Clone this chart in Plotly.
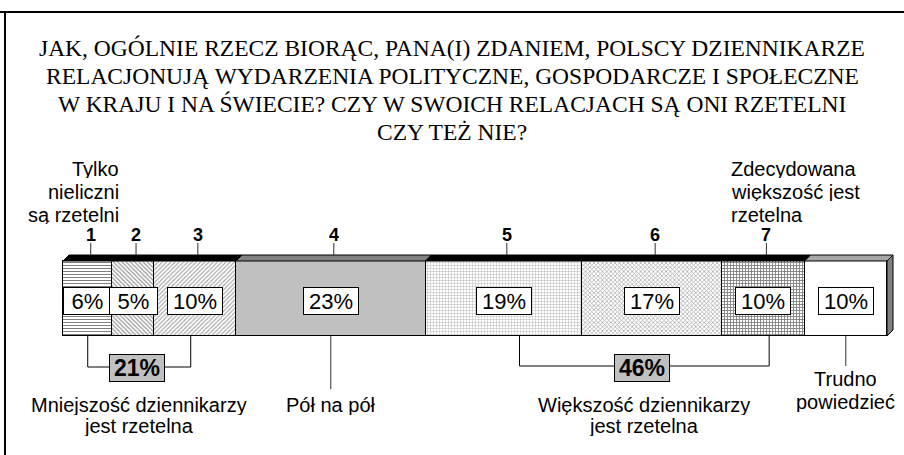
import plotly.graph_objects as go

# ---------------- data ----------------
segment_names = ["1", "2", "3", "4", "5", "6", "7", "Trudno powiedzieć"]
values = [6, 5, 10, 23, 19, 17, 10, 10]
value_labels = ["6%", "5%", "10%", "23%", "19%", "17%", "10%", "10%"]
scale_numbers = ["1", "2", "3", "4", "5", "6", "7"]
group_labels = ["21%", "46%"]
title_lines = [
    "JAK, OGÓLNIE RZECZ BIORĄC, PANA(I) ZDANIEM, POLSCY DZIENNIKARZE",
    "RELACJONUJĄ WYDARZENIA POLITYCZNE, GOSPODARCZE I SPOŁECZNE",
    "W KRAJU I NA ŚWIECIE? CZY W SWOICH RELACJACH SĄ ONI RZETELNI",
    "CZY TEŻ NIE?",
]
top_left_label = ["Tylko", "nieliczni", "są rzetelni"]
top_right_label = ["Zdecydowana", "większość jest", "rzetelna"]
minority_label = ["Mniejszość dziennikarzy", "jest rzetelna"]
half_label = ["Pół na pół"]
majority_label = ["Większość dziennikarzy", "jest rzetelna"]
dontknow_label = ["Trudno", "powiedzieć"]

# ---------------- styles ----------------
patterns = [
    dict(shape="-", fgcolor="#000000", bgcolor="#ffffff", size=3, solidity=0.34),
    dict(shape="\\", fgcolor="#303030", bgcolor="#ffffff", size=3, solidity=0.4),
    dict(shape="/", fgcolor="#404040", bgcolor="#ffffff", size=3, solidity=0.35),
    dict(shape="", fgcolor="#c0c0c0", bgcolor="#c0c0c0"),
    dict(shape="+", fgcolor="#505050", bgcolor="#ffffff", size=3, solidity=0.25),
    dict(shape="x", fgcolor="#404040", bgcolor="#ffffff", size=3, solidity=0.4),
    dict(shape="+", fgcolor="#000000", bgcolor="#ffffff", size=3, solidity=0.5),
    dict(shape="", fgcolor="#ffffff", bgcolor="#ffffff"),
]
base_colors = ["#ffffff", "#ffffff", "#ffffff", "#c0c0c0", "#ffffff", "#ffffff", "#ffffff", "#ffffff"]
top_colors = ["#000000", "#000000", "#000000", "#808080", "#000000", "#000000", "#000000", "#a6a6a6"]

W, H = 904, 455
BAR_L, BAR_R = 63, 887
BAR_TOP, BAR_BOT = 261, 336
DEPTH = 6
total = sum(values)
k = (BAR_R - BAR_L) / total          # pixels per percent
dx = DEPTH / k                        # depth in data units
SANS = "Liberation Sans, Arial, sans-serif"
SERIF = "Liberation Serif, Times New Roman, serif"


def px(p):
    """pixel column -> data x"""
    return (p - BAR_L) / k


fig = go.Figure()
starts = []
acc = 0
for i, v in enumerate(values):
    starts.append(acc)
    fig.add_trace(go.Bar(
        x=[v], y=[(BAR_TOP + BAR_BOT) / 2], width=BAR_BOT - BAR_TOP,
        orientation="h", name=segment_names[i],
        marker=dict(color=base_colors[i], pattern=patterns[i],
                    line=dict(color="#000000", width=1)),
        showlegend=False, hoverinfo="skip",
    ))
    acc += v
centers = [s + v / 2 for s, v in zip(starts, values)]
ends = [s + v for s, v in zip(starts, values)]

shapes = []
annotations = []

# 3D top faces
for i in range(len(values)):
    x0, x1 = starts[i], ends[i]
    path = (f"M {x0},{BAR_TOP} L {x0 + dx},{BAR_TOP - DEPTH} "
            f"L {x1 + dx},{BAR_TOP - DEPTH} L {x1},{BAR_TOP} Z")
    shapes.append(dict(type="path", path=path, xref="x", yref="y",
                       fillcolor=top_colors[i], line=dict(color="#000000", width=1)))
# 3D right side
xe = ends[-1]
path = (f"M {xe},{BAR_TOP} L {xe + dx},{BAR_TOP - DEPTH} L {xe + dx},{BAR_BOT - DEPTH} "
        f"L {xe},{BAR_BOT} Z")
shapes.append(dict(type="path", path=path, xref="x", yref="y",
                   fillcolor="#808080", line=dict(color="#000000", width=1)))

# scale numbers with leader lines
for i, n in enumerate(scale_numbers):
    cx = centers[i] + 3 / k
    shapes.append(dict(type="line", xref="x", yref="y", x0=cx, x1=cx,
                       y0=243, y1=BAR_TOP - DEPTH, line=dict(color="#303030", width=1)))
    annotations.append(dict(x=cx, y=234, xref="x", yref="y", text=f"<b>{n}</b>",
                            showarrow=False, height=15,
                            font=dict(family=SANS, size=18, color="#000000")))

# value labels
for i, lab in enumerate(value_labels):
    annotations.append(dict(x=centers[i], y=301, xref="x", yref="y", text=lab,
                            showarrow=False, bgcolor="#ffffff", bordercolor="#000000",
                            borderwidth=1, borderpad=0, width=47 if len(lab) == 2 else 54,
                            height=26, font=dict(family=SANS, size=22, color="#000000")))


# brackets
def bracket(xa, xb, depth_y):
    return dict(type="path", xref="x", yref="y",
                path=f"M {xa},{BAR_BOT} L {xa},{depth_y} L {xb},{depth_y} L {xb},{BAR_BOT}",
                line=dict(color="#000000", width=1))


lb_a = starts[0] + 0.5 * values[0]
lb_b = starts[2] + 0.45 * values[2]
rb_a = starts[4] + 0.6 * values[4]
rb_b = starts[6] + 0.57 * values[6]
shapes.append(bracket(lb_a, lb_b, 367))
shapes.append(bracket(rb_a, rb_b, 366))
for lab, (a, b) in zip(group_labels, [(lb_a, lb_b), (rb_a, rb_b)]):
    annotations.append(dict(x=(a + b) / 2 - 2 / k, y=368, xref="x", yref="y",
                            text=f"<b>{lab}</b>", showarrow=False,
                            bgcolor="#c0c0c0", bordercolor="#000000", borderwidth=1,
                            borderpad=0, width=54, height=26,
                            font=dict(family=SANS, size=23, color="#000000")))

# leader lines for "Pół na pół" and "Trudno powiedzieć"
shapes.append(dict(type="line", xref="x", yref="y", x0=centers[3], x1=centers[3],
                   y0=BAR_BOT, y1=389, line=dict(color="#303030", width=1)))
shapes.append(dict(type="line", xref="x", yref="y", x0=centers[7], x1=centers[7],
                   y0=BAR_BOT, y1=366, line=dict(color="#303030", width=1)))


def text_block(lines, x, y0, step, xanchor="center", size=20, h=None):
    for j, t in enumerate(lines):
        a = dict(x=x, y=y0 + j * step, xref="x", yref="y", text=t,
                 showarrow=False, xanchor=xanchor,
                 font=dict(family=SANS, size=size, color="#000000"))
        if h:
            a["height"] = h
        annotations.append(a)


text_block(top_left_label, px(121), 169, 23, xanchor="right", h=18)
text_block(top_right_label, px(729), 169, 23, xanchor="left", h=18)
text_block(minority_label, (lb_a + lb_b) / 2, 405, 21, h=20)
text_block(half_label, centers[3], 405, 21, h=20)
text_block(majority_label, (rb_a + rb_b) / 2, 405, 21, h=20)
text_block(dontknow_label, centers[7], 379, 23, h=20)

# title
for j, t in enumerate(title_lines):
    annotations.append(dict(x=px(452), y=48 + j * 28, xref="x", yref="y", text=t,
                            showarrow=False, xanchor="center", height=26,
                            font=dict(family=SERIF, size=23.5, color="#000000")))

# frame (top and left)
shapes.append(dict(type="line", xref="paper", yref="y", x0=0, x1=1, y0=12, y1=12,
                   line=dict(color="#000000", width=2)))
shapes.append(dict(type="line", xref="x", yref="y", x0=px(5), x1=px(5), y0=11, y1=H,
                   line=dict(color="#000000", width=2)))

fig.update_layout(
    width=W, height=H, margin=dict(l=0, r=0, t=0, b=0),
    paper_bgcolor="#ffffff", plot_bgcolor="#ffffff",
    barmode="stack", bargap=0,
    xaxis=dict(range=[px(0), px(W)], visible=False, fixedrange=True),
    yaxis=dict(range=[H, 0], visible=False, fixedrange=True),
    shapes=shapes, annotations=annotations,
)

fig.write_html(
    "out.html",
    config={"displayModeBar": False},
    post_script="document.body.style.margin='0';document.body.style.overflow='hidden';",
)
